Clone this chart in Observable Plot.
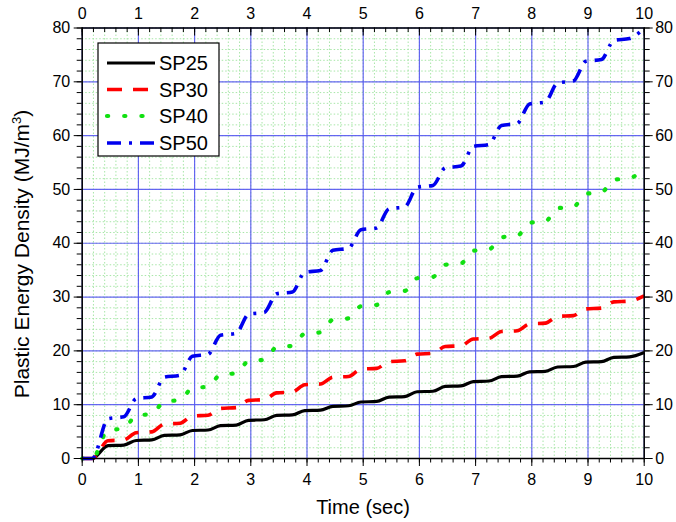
<!DOCTYPE html>
<html><head><meta charset="utf-8">
<script src="https://cdn.jsdelivr.net/npm/d3@7"></script>
<script src="https://cdn.jsdelivr.net/npm/@observablehq/plot@0.6"></script>
<style>
body{margin:0;background:#fff;}
#chart{position:relative;width:676px;height:522px;}
</style></head><body><div id="chart"></div>
<script>
// ---- data ----
const time = [0, 0.18, 0.46, 0.74, 0.96, 1.24, 1.46, 1.74, 1.96, 2.24, 2.46, 2.74, 2.96, 3.24, 3.46, 3.74, 3.96, 4.24, 4.46, 4.74, 4.96, 5.24, 5.46, 5.74, 5.96, 6.24, 6.46, 6.74, 6.96, 7.24, 7.46, 7.74, 7.96, 8.24, 8.46, 8.74, 8.96, 9.24, 9.46, 9.74, 10];
const sp25 = [0, 0, 2.4, 2.5, 3.35, 3.45, 4.3, 4.4, 5.2, 5.3, 6.1, 6.2, 7.1, 7.2, 8.0, 8.1, 8.9, 9.0, 9.7, 9.8, 10.5, 10.6, 11.4, 11.5, 12.4, 12.5, 13.4, 13.5, 14.3, 14.4, 15.2, 15.3, 16.1, 16.2, 17.0, 17.1, 17.9, 18.0, 18.8, 18.9, 19.7];
const sp30 = [0, 0, 3.3, 3.45, 4.8, 4.95, 6.4, 6.55, 7.9, 8.05, 9.3, 9.45, 10.8, 10.95, 12.2, 12.35, 13.7, 13.85, 15.1, 15.25, 16.6, 16.75, 18.0, 18.15, 19.4, 19.55, 20.8, 20.95, 22.2, 22.35, 23.6, 23.75, 25.0, 25.15, 26.4, 26.55, 27.8, 27.95, 29.1, 29.25, 30.2];
const sp40 = [0, 0, 5.3, 5.55, 8.0, 8.25, 10.6, 10.85, 13.1, 13.35, 15.6, 15.85, 18.1, 18.35, 20.7, 20.95, 23.2, 23.45, 25.8, 26.05, 28.3, 28.55, 30.9, 31.15, 33.5, 33.75, 36.0, 36.25, 38.6, 38.85, 41.1, 41.35, 43.8, 44.05, 46.5, 46.75, 49.2, 49.45, 51.8, 52.05, 54.2];
const sp50 = [0, 0, 7.4, 7.75, 11.1, 11.45, 15.1, 15.45, 19.0, 19.35, 22.9, 23.25, 26.8, 27.15, 30.6, 30.95, 34.6, 34.95, 38.7, 39.05, 42.5, 42.85, 46.4, 46.75, 50.4, 50.75, 54.0, 54.35, 58.0, 58.35, 61.9, 62.25, 65.9, 66.25, 69.8, 70.15, 73.8, 74.15, 77.7, 78.05, 80.0];
const seriesNames = ["SP25", "SP30", "SP40", "SP50"];
const xTicks = [0, 1, 2, 3, 4, 5, 6, 7, 8, 9, 10];
const yTicks = [0, 10, 20, 30, 40, 50, 60, 70, 80];
const xTitle = "Time (sec)";
const yTitle = "Plastic Energy Density (MJ/m";

// ---- table built from arrays ----
const allSeries = [sp25, sp30, sp40, sp50];
const rows = [];
allSeries.forEach((vals, i) => vals.forEach((v, j) => rows.push({t: time[j], e: v, s: seriesNames[i]})));

const styles = {
  SP25: {stroke: "#000000", strokeWidth: 3.2, strokeDasharray: null, strokeLinecap: "butt"},
  SP30: {stroke: "#ff0000", strokeWidth: 3.6, strokeDasharray: "15,11", strokeLinecap: "butt"},
  SP40: {stroke: "#11e011", strokeWidth: 4.2, strokeDasharray: "1.2,16", strokeLinecap: "round"},
  SP50: {stroke: "#0000ee", strokeWidth: 3.6, strokeDasharray: "14,8,3,8", strokeLinecap: "butt"}
};

const W = 676, H = 522, mL = 81.7, mR = 32.3, mT = 27.5, mB = 64;
const plotH = H - mT - mB;
const xMinor = d3.ticks(0, 10, 50);
const FONT = "'Liberation Sans', Arial, sans-serif";

const lineMarks = seriesNames.map(name => Plot.line(rows.filter(r => r.s === name), {
  x: "t", y: "e", curve: "monotone-x", ...styles[name]
}));

const chart = Plot.plot({
  width: W, height: H,
  marginLeft: mL, marginRight: mR, marginTop: mT, marginBottom: mB,
  x: {domain: [0, 10]},
  y: {domain: [0, 80]},
  style: {fontFamily: FONT, fontSize: "16px", background: "#fff", color: "#000"},
  marks: [
    Plot.gridX({ticks: 50, stroke: "#a8e6a8", strokeOpacity: 1, strokeDasharray: "1.5,2"}),
    Plot.gridY({ticks: 40, stroke: "#a8e6a8", strokeOpacity: 1, strokeDasharray: "1.5,2"}),
    Plot.gridX(xTicks, {stroke: "#5656f2", strokeOpacity: 0.9, strokeWidth: 1.2}),
    Plot.gridY(yTicks, {stroke: "#5656f2", strokeOpacity: 0.9, strokeWidth: 1.2}),
    ...lineMarks,
    Plot.frame({stroke: "#000", strokeWidth: 1.5}),
    Plot.axisX(xTicks, {anchor: "bottom", tickSize: 8, tickPadding: 7, label: null, fontSize: 16}),
    Plot.axisX(xMinor, {anchor: "bottom", tickSize: 4.5, tickFormat: () => "", label: null}),
    Plot.axisX(xTicks, {anchor: "top", tickSize: 0, tickPadding: 9, label: null, fontSize: 16}),
    Plot.tickX(xTicks, {x: d => d, insetBottom: plotH - 8, stroke: "#000", strokeWidth: 1}),
    Plot.tickX(xMinor, {x: d => d, insetBottom: plotH - 4.5, stroke: "#000", strokeWidth: 1}),
    Plot.axisY(yTicks, {anchor: "left", tickSize: 8, tickPadding: 4, label: null, fontSize: 16}),
    Plot.axisY({ticks: 40, anchor: "left", tickSize: 5, tickFormat: () => "", label: null}),
    Plot.axisY(yTicks, {anchor: "right", tickSize: 8, tickPadding: 3, label: null, fontSize: 16}),
    Plot.axisY({ticks: 40, anchor: "right", tickSize: 5, tickFormat: () => "", label: null})
  ]
});
document.getElementById("chart").appendChild(chart);

// ---- titles & legend ----
const svg = d3.select(chart);
svg.append("text").attr("x", 363).attr("y", 514).attr("text-anchor", "middle")
  .attr("font-size", 20).attr("font-family", FONT).attr("fill", "#000").text(xTitle);
const yt = svg.append("text").attr("transform", "translate(29,254) rotate(-90)").attr("text-anchor", "middle")
  .attr("font-size", 21).attr("font-family", FONT).attr("fill", "#000");
yt.append("tspan").text(yTitle);
yt.append("tspan").attr("dy", -8).attr("font-size", 13).text("3");
yt.append("tspan").attr("dy", 8).text(")");

const lg = svg.append("g");
lg.append("rect").attr("x", 98).attr("y", 43).attr("width", 121).attr("height", 113)
  .attr("fill", "#fff").attr("stroke", "#000").attr("stroke-width", 1.2);
const rowY = [63, 89.5, 116, 143];
seriesNames.forEach((name, i) => {
  const st = styles[name];
  lg.append("line").attr("x1", 107).attr("x2", 155).attr("y1", rowY[i]).attr("y2", rowY[i])
    .attr("stroke", st.stroke).attr("stroke-width", st.strokeWidth)
    .attr("stroke-dasharray", st.strokeDasharray).attr("stroke-linecap", st.strokeLinecap);
  lg.append("text").attr("x", 159).attr("y", rowY[i]).attr("dy", "0.36em").attr("text-anchor", "start")
    .attr("font-size", 20).attr("font-family", FONT).attr("fill", "#000").text(name);
});
</script></body></html>
